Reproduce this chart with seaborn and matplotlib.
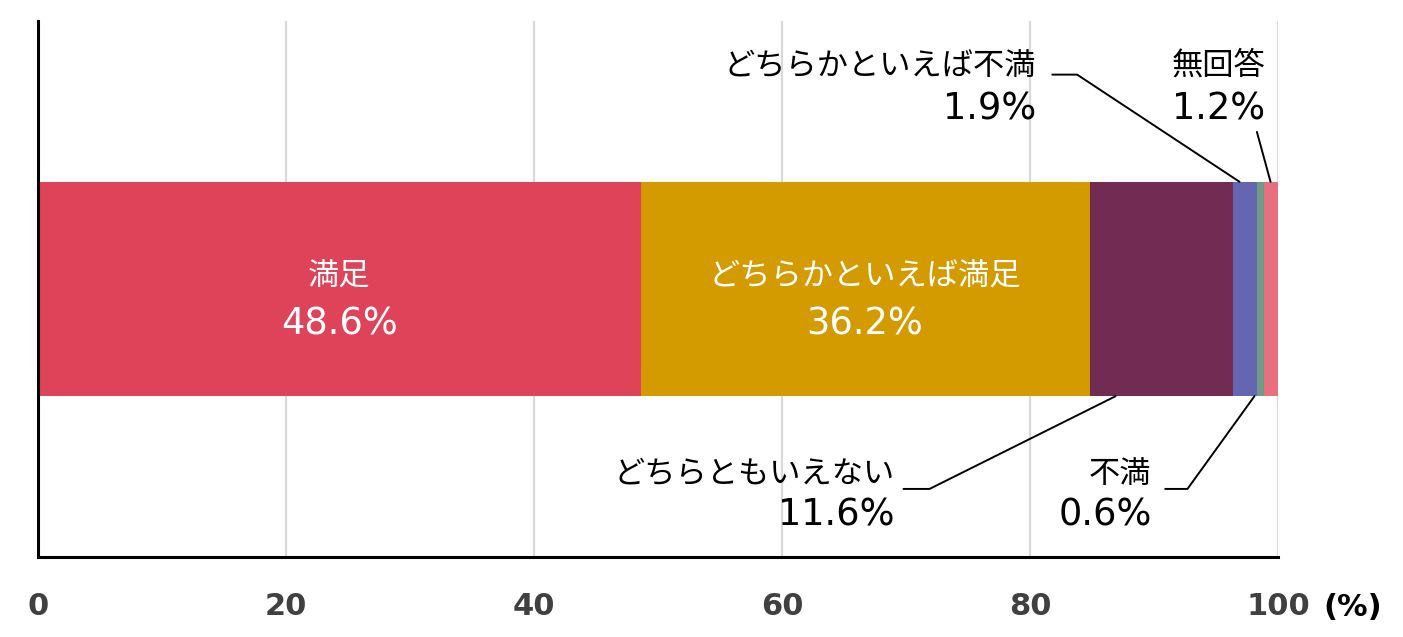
import numpy as np
import pandas as pd
import matplotlib
matplotlib.use("Agg")
import matplotlib.pyplot as plt
import seaborn as sns

# data
categories = ["満足", "どちらかといえば満足", "どちらともいえない",
              "どちらかといえば不満", "不満", "無回答"]
values = [48.6, 36.2, 11.6, 1.9, 0.6, 1.2]
colors = ["#DF4359", "#D39B00", "#722B53", "#6566B1", "#6E9A86", "#E6707E"]
x_ticks = [0, 20, 40, 60, 80, 100]

sns.set_style("white")
plt.rcParams["font.family"] = ["Noto Sans CJK JP", "DejaVu Sans"]
JP = ["Noto Sans CJK JP", "DejaVu Sans"]
NUM = ["DejaVu Sans", "Noto Sans CJK JP"]

df = pd.DataFrame({"cat": categories, "val": values, "color": colors})
df["end"] = df["val"].cumsum()
df["start"] = df["end"] - df["val"]
df["row"] = "all"

fig = plt.figure(figsize=(14.03, 6.37), dpi=100)
ax = fig.add_axes([0.0271, 0.1256, 0.8838, 0.8414])

# stacked bar: overlay cumulative bars from the longest to the shortest
for i in range(len(df) - 1, -1, -1):
    sns.barplot(data=df.iloc[[i]], x="end", y="row", color=df["color"][i],
                width=0.8, saturation=1, orient="y", ax=ax, zorder=3,
                linewidth=0)

ax.set_xlim(0, 100)
ax.set_ylim(1.0, -1.0)
ax.set_xticks(x_ticks)
ax.set_xticklabels([str(t) for t in x_ticks], fontsize=22, fontweight="bold",
                   color="#404040", family=NUM)
ax.set_yticks([])
ax.set_xlabel("")
ax.set_ylabel("")
ax.tick_params(axis="x", length=0, pad=25)
ax.grid(axis="x", color="#D9D9D9", linewidth=1.6, zorder=0)
ax.set_axisbelow(True)
for s in ["top", "right"]:
    ax.spines[s].set_visible(False)
for s in ["left", "bottom"]:
    ax.spines[s].set_color("black")
    ax.spines[s].set_linewidth(2.2)
    ax.spines[s].set_zorder(5)

ax.text(1.0605, -0.095, "(%)", transform=ax.transAxes, fontsize=22, fontweight="bold",
        ha="center", va="center", color="black", family=NUM)


def label(i, x, y_cat, y_pct, ha, color):
    ax.text(x, y_cat, df["cat"][i], ha=ha, va="center", color=color,
            fontsize=22.5, family=JP, zorder=6)
    ax.text(x, y_pct, f"{df['val'][i]:.1f}%", ha=ha, va="center", color=color,
            fontsize=26.5, family=NUM, zorder=6)


# labels inside the two big segments
for i in [0, 1]:
    mid = (df["start"][i] + df["end"][i]) / 2
    label(i, mid, -0.048, 0.13, "center", "white")

# outside labels with leader lines
# (text x, cat y, pct y, elbow x0, elbow x1, elbow y, bar x, bar y)
outside = {
    3: (80.5, -0.832, -0.673, 81.8, 83.8, -0.80, df["start"][3] + 0.5, -0.4),
    5: (98.95, -0.832, -0.673, 98.3, 98.3, -0.586, df["start"][5] + 0.5, -0.4),
    2: (69.1, 0.69, 0.843, 69.8, 71.9, 0.746, df["start"][2] + 2.1, 0.4),
    4: (89.8, 0.69, 0.843, 90.9, 92.7, 0.746, df["start"][4] - 0.2, 0.4),
}
for i, (tx, yc, yp, e0, e1, ey, bx, by) in outside.items():
    label(i, tx, yc, yp, "right", "black")
    ax.plot([e0, e1, bx], [ey, ey, by], color="black", lw=1.4, zorder=6, clip_on=False)

fig.savefig("out.png", dpi=100)
